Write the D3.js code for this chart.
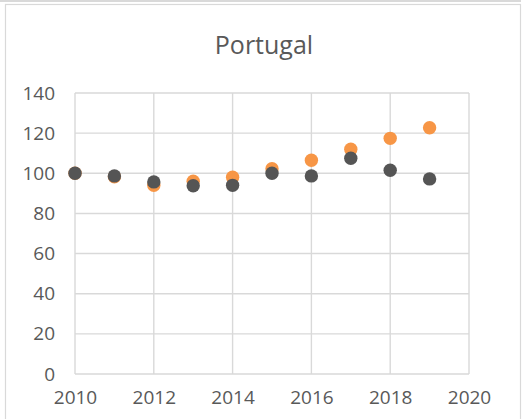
<!DOCTYPE html>
<html>
<head>
<meta charset="utf-8">
<script src="https://cdn.jsdelivr.net/npm/d3@7"></script>
<style>
  body { margin: 0; background: #fff; }
  text { font-family: "Open Sans", "Liberation Sans", sans-serif; fill: #595959; }
</style>
</head>
<body>
<div id="chart"></div>
<script>
// values
const years = [2010, 2011, 2012, 2013, 2014, 2015, 2016, 2017, 2018, 2019];
const orangeSeries = [100, 98.3, 94.0, 96.0, 98.0, 102.3, 106.5, 112.0, 117.4, 122.7];
const darkSeries = [100, 98.7, 95.7, 93.8, 94.0, 100, 98.7, 107.5, 101.5, 97.2];
const xTicks = [2010, 2012, 2014, 2016, 2018, 2020];
const yTicks = [0, 20, 40, 60, 80, 100, 120, 140];

const width = 524;
const height = 419;
const plot = { left: 75, right: 469, top: 93, bottom: 374 };

const svg = d3.select("#chart").append("svg")
    .attr("width", width)
    .attr("height", height);

// frame of the chart
svg.append("line")
    .attr("x1", 0).attr("x2", 521)
    .attr("y1", 1).attr("y2", 1)
    .attr("stroke", "#d9d9d9")
    .attr("stroke-width", 2);
svg.append("rect")
    .attr("x", 5.5).attr("y", 4.5)
    .attr("width", 515).attr("height", 430)
    .attr("fill", "none")
    .attr("stroke", "#d9d9d9")
    .attr("stroke-width", 1.2);

const x = d3.scaleLinear().domain([2010, 2020]).range([plot.left, plot.right]);
const y = d3.scaleLinear().domain([0, 140]).range([plot.bottom, plot.top]);

// gridlines
svg.append("g")
    .selectAll("line")
    .data(xTicks)
    .enter()
    .append("line")
    .attr("x1", d => x(d)).attr("x2", d => x(d))
    .attr("y1", plot.top).attr("y2", plot.bottom)
    .attr("stroke", "#d9d9d9")
    .attr("stroke-width", 1.4);

svg.append("g")
    .selectAll("line")
    .data(yTicks)
    .enter()
    .append("line")
    .attr("x1", plot.left).attr("x2", plot.right)
    .attr("y1", d => y(d)).attr("y2", d => y(d))
    .attr("stroke", "#d9d9d9")
    .attr("stroke-width", 1.4);

// axes, text only
const xAxis = d3.axisBottom(x).tickValues(xTicks).tickFormat(d3.format("d")).tickSize(0).tickPadding(17);
svg.append("g")
    .attr("transform", "translate(0," + plot.bottom + ")")
    .call(xAxis)
    .call(g => g.select(".domain").remove())
    .selectAll("text")
    .style("font-size", "19px")
    .attr("fill", "#595959");

const yAxis = d3.axisLeft(y).tickValues(yTicks).tickSize(0).tickPadding(20);
svg.append("g")
    .attr("transform", "translate(" + plot.left + ",0)")
    .call(yAxis)
    .call(g => g.select(".domain").remove())
    .selectAll("text")
    .style("font-size", "19px")
    .attr("fill", "#595959");

// points
const radius = 6.7;
svg.append("g")
    .selectAll("circle")
    .data(orangeSeries)
    .enter()
    .append("circle")
    .attr("cx", (d, i) => x(years[i]))
    .attr("cy", d => y(d))
    .attr("r", radius)
    .attr("fill", "#f79646");

svg.append("g")
    .selectAll("circle")
    .data(darkSeries)
    .enter()
    .append("circle")
    .attr("cx", (d, i) => x(years[i]))
    .attr("cy", d => y(d))
    .attr("r", radius)
    .attr("fill", "#555555");

svg.append("text")
    .attr("x", 264)
    .attr("y", 54)
    .attr("text-anchor", "middle")
    .style("font-size", "25px")
    .text("Portugal");
</script>
</body>
</html>
